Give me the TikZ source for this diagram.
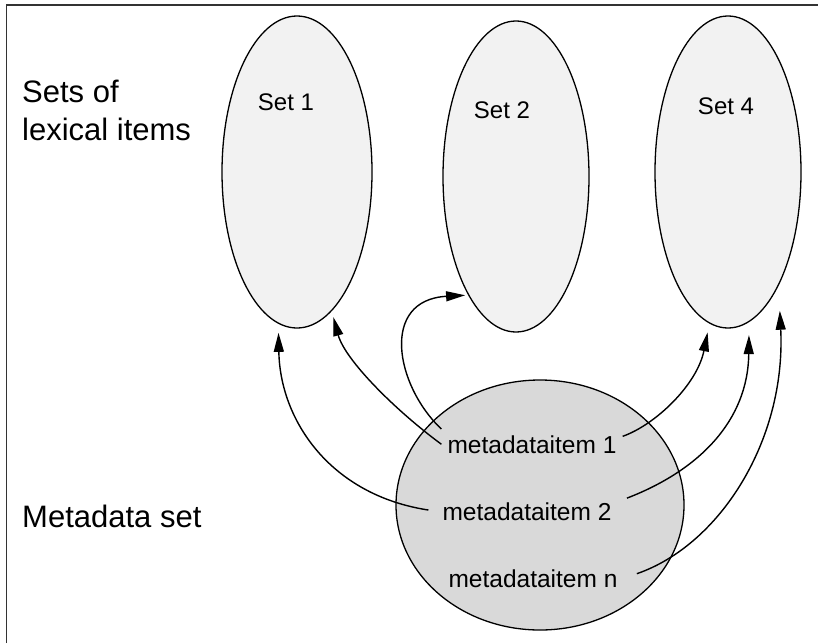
\documentclass[tikz,border=0pt]{standalone}
\usepackage{fontspec}
\setmainfont{Liberation Sans}
\usetikzlibrary{shapes.geometric,arrows.meta}

\definecolor{setfill}{HTML}{F2F2F2}
\definecolor{metafill}{HTML}{D9D9D9}
\definecolor{framegray}{HTML}{333333}

\tikzset{
  setblob/.style={ellipse, draw=black, line width=1.3pt, fill=setfill, inner sep=0pt},
  metablob/.style={ellipse, draw=black, line width=1.3pt, fill=metafill, inner sep=0pt},
  settext/.style={anchor=base, inner sep=0pt, font=\fontsize{24}{28}\selectfont},
  itemtext/.style={anchor=base, inner sep=6pt, font=\fontsize{24.5}{29}\selectfont},
  sidetext/.style={anchor=base west, inner sep=0pt, font=\fontsize{31}{38}\selectfont},
  link/.style={line width=1.4pt, -{Triangle[length=19pt,width=10pt]}},
}

\begin{document}
\begin{tikzpicture}[x=1pt, y=-1pt]
  \useasboundingbox (0,0) rectangle (818,643);

  % frame edges
  \draw[framegray, line width=1.5pt] (6.5,643) -- (6.5,5) -- (818,5);

  % side captions
  \node[sidetext] (lbla) at (22,102) {Sets of};
  \node[sidetext] (lblb) at (22,140) {lexical items};
  \node[sidetext] (lblmeta) at (22,527) {Metadata set};

  % sets of lexical items
  \node[setblob, minimum width=150pt, minimum height=312pt] (set1) at (297,172) {};
  \node[setblob, minimum width=146pt, minimum height=311pt] (set2) at (516,176.5) {};
  \node[setblob, minimum width=146pt, minimum height=312pt] (set4) at (728,172) {};
  \node[settext] (t1) at (286,110) {Set 1};
  \node[settext] (t2) at (502,118) {Set 2};
  \node[settext] (t4) at (726,114) {Set 4};

  % metadata set
  \node[metablob, minimum width=288pt, minimum height=250pt] (meta) at (540,505) {};
  \node[itemtext] (mi1) at (532,453) {metadataitem 1};
  \node[itemtext] (mi2) at (527,520) {metadataitem 2};
  \node[itemtext] (min) at (533,587) {metadataitem n};

  % links from metadata items to sets
  \draw[link, shorten >=6pt] (mi1.west) .. controls (395,410) and (345,360) .. (set1.-76);
  \draw[link, shorten <=8pt, shorten >=9pt] (mi2.west) .. controls (330,495) and (280,420) .. (set1.-97);
  \draw[link, shorten >=3pt] (mi1.north west) .. controls (395,385) and (380,300) .. (set2.248);
  \draw[link, shorten >=9pt] (mi1.5) .. controls (655,425) and (697,385) .. (set4.-97);
  \draw[link, shorten <=10pt, shorten >=13pt] (mi2.6) .. controls (700,470) and (748,420) .. (set4.-82);
  \draw[link, shorten <=14pt, shorten >=25pt] (min.east) .. controls (720,545) and (786,440) .. (set4.-66);
\end{tikzpicture}
\end{document}
